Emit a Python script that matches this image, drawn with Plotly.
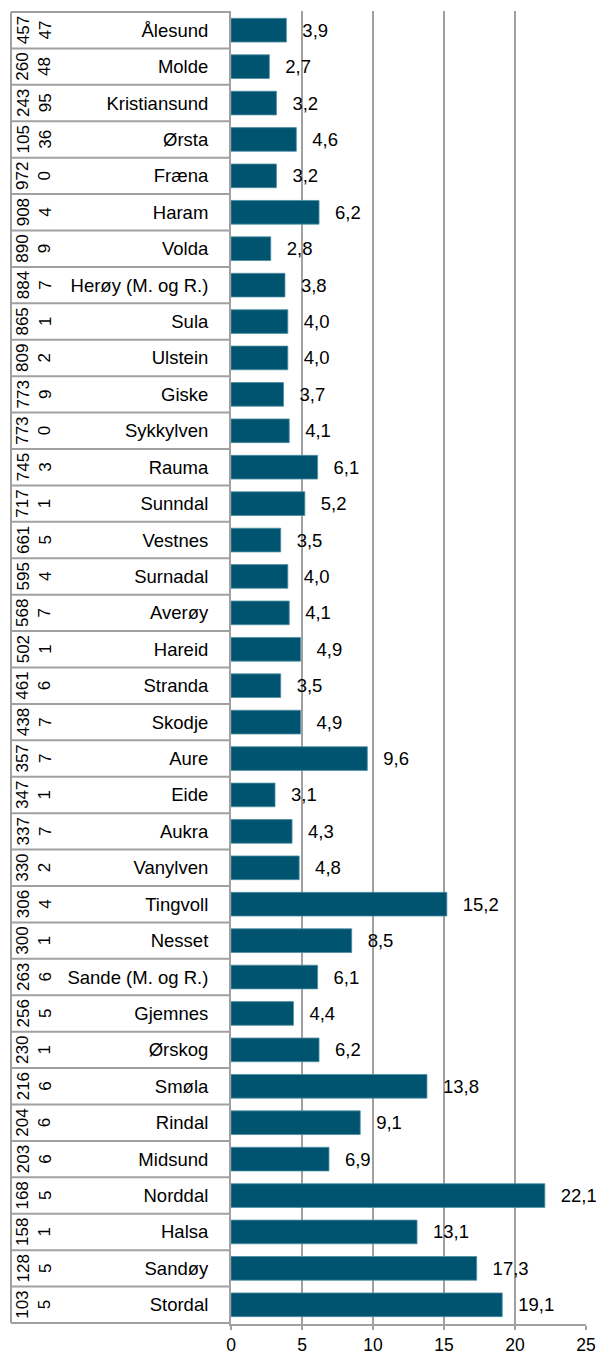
import plotly.graph_objects as go

kommuner = ["Ålesund", "Molde", "Kristiansund", "Ørsta", "Fræna", "Haram", "Volda",
            "Herøy (M. og R.)", "Sula", "Ulstein", "Giske", "Sykkylven", "Rauma",
            "Sunndal", "Vestnes", "Surnadal", "Averøy", "Hareid", "Stranda", "Skodje",
            "Aure", "Eide", "Aukra", "Vanylven", "Tingvoll", "Nesset",
            "Sande (M. og R.)", "Gjemnes", "Ørskog", "Smøla", "Rindal", "Midsund",
            "Norddal", "Halsa", "Sandøy", "Stordal"]
innbyggere = [45747, 26048, 24395, 10536, 9720, 9084, 8909, 8847, 8651, 8092, 7739,
              7730, 7453, 7171, 6615, 5954, 5687, 5021, 4616, 4387, 3577, 3471, 3377,
              3302, 3064, 3001, 2636, 2565, 2301, 2166, 2046, 2036, 1685, 1581, 1285,
              1035]
verdier = [3.9, 2.7, 3.2, 4.6, 3.2, 6.2, 2.8, 3.8, 4.0, 4.0, 3.7, 4.1, 6.1, 5.2, 3.5,
           4.0, 4.1, 4.9, 3.5, 4.9, 9.6, 3.1, 4.3, 4.8, 15.2, 8.5, 6.1, 4.4, 6.2, 13.8,
           9.1, 6.9, 22.1, 13.1, 17.3, 19.1]
x_ticks = [0, 5, 10, 15, 20, 25]

# page body has an 8px margin all round; keep the figure inside the window
OFF = 8
W, H = 604 - 2 * OFF, 1365 - 2 * OFF
ML, MR, MT, MB = 231 - OFF, 10, 11 - OFF, 33
plot_w = W - ML - MR
FONT = "Liberation Sans, Arial, sans-serif"
GRID = "#a0a0a0"

labels = ["\u2002\u2009" + f"{v:.1f}".replace(".", ",") for v in verdier]

fig = go.Figure(go.Bar(
    x=verdier, y=kommuner, orientation="h",
    marker=dict(color="#005470", line=dict(color="#4d8ea2", width=0.8)),
    text=labels, textposition="outside", cliponaxis=False,
    textfont=dict(size=18.5, color="black", family=FONT),
))

# table to the left of the axis
left = -(231 - 11) / plot_w
n = len(kommuner)
for i in range(n + 1):
    fig.add_shape(type="line", xref="paper", yref="y", x0=left, x1=0,
                  y0=i - 0.5, y1=i - 0.5, line=dict(color=GRID, width=2))
fig.add_shape(type="line", xref="paper", yref="y", x0=left, x1=left,
              y0=-0.5, y1=n - 0.5, line=dict(color=GRID, width=2))

for name, pop in zip(kommuner, innbyggere):
    s = str(pop)
    fig.add_annotation(x=-(231 - 34) / plot_w, xref="paper", y=name, yref="y",
                       text=s[:3] + "<br>" + s[3:], textangle=-90, showarrow=False,
                       xanchor="center", yanchor="middle", align="center",
                       font=dict(size=17, color="black", family=FONT))

fig.update_layout(
    width=W, height=H, margin=dict(l=ML, r=MR, t=MT, b=MB),
    plot_bgcolor="white", paper_bgcolor="white", showlegend=False,
    bargap=0.35, font=dict(family=FONT, color="black"),
    xaxis=dict(range=[0, 25], tickvals=x_ticks, showgrid=True, gridcolor=GRID,
               gridwidth=1.5, zeroline=False, showline=True, linecolor=GRID,
               linewidth=2, ticks="outside", ticklen=4, tickcolor=GRID, tickwidth=2,
               automargin=False, ticklabeloverflow="allow",
               tickfont=dict(size=17.5, color="black")),
    yaxis=dict(type="category", autorange="reversed", showgrid=False, zeroline=False,
               showline=True, linecolor=GRID, linewidth=2, ticks="", automargin=False,
               ticklabelstandoff=17, tickfont=dict(size=18.5, color="black")),
)

fig.write_html("out.html")
